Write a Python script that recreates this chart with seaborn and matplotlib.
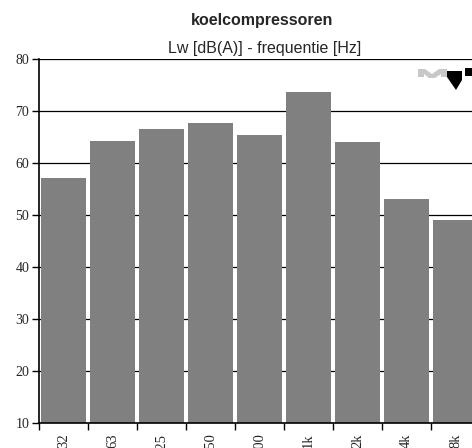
import matplotlib
matplotlib.use("Agg")
import matplotlib.pyplot as plt
import seaborn as sns
import pandas as pd
import numpy as np
from matplotlib.patches import Polygon

categories = ["32", "63", "125", "250", "500", "1k", "2k", "4k", "8k"]
values = [57.2, 64.3, 66.6, 67.8, 65.4, 73.7, 64.1, 53.1, 49.1]
yticks = [10, 20, 30, 40, 50, 60, 70, 80]

df = pd.DataFrame({"freq": categories, "Lw": values})

sns.set_style("white")
plt.rcParams["font.family"] = ["Liberation Sans", "DejaVu Sans"]

W, H = 472, 448
fig = plt.figure(figsize=(W / 100, H / 100), dpi=100)
ax = fig.add_axes([39 / W, 1 - 423.3 / H, 441 / W, (423.3 - 59.3) / H])

sns.barplot(data=df, x="freq", y="Lw", color="#808080", saturation=1,
            width=0.92, ax=ax, zorder=2, edgecolor="none", linewidth=0)
ax.set_xlim(-0.5, len(categories) - 0.5)
ax.set_ylim(10, 80)
ax.set_yticks(yticks)
ax.yaxis.grid(True, color="black", linewidth=0.9, zorder=1)
ax.set_axisbelow(True)
ax.set_xlabel("")
ax.set_ylabel("")

for s in ["top", "right"]:
    ax.spines[s].set_visible(False)
for s in ["left", "bottom"]:
    ax.spines[s].set_visible(True)
    ax.spines[s].set_color("black")
    ax.spines[s].set_linewidth(1.2)

# labels at centers, tick marks at boundaries
ax.set_xticks(range(len(categories)))
ax.set_xticklabels(categories, rotation=90, family="Liberation Serif", fontsize=10.5)
ax.set_xticks(np.arange(-0.5, len(categories), 1), minor=True)
ax.tick_params(axis="x", which="major", length=0, pad=7)
ax.tick_params(axis="x", which="minor", length=5, width=1, color="black",
               direction="out", bottom=True)
ax.tick_params(axis="y", length=5, width=1, color="black", direction="out",
               left=True, pad=2)
for lab in ax.get_yticklabels():
    lab.set_family("Liberation Serif")
    lab.set_fontsize(10)

fig.text(262 / W, 1 - 20 / H, "koelcompressoren", ha="center", va="center",
         fontsize=11.5, fontweight="bold")
fig.text(265 / W, 1 - 49 / H, "Lw [dB(A)] - frequentie [Hz]", ha="center",
         va="center", fontsize=11.5)

# logo (decoration)
def px(pts):
    return [(x / W, 1 - y / H) for x, y in pts]

gray_m = px([(418, 69), (425, 69), (432, 74), (439, 69), (447, 69), (447, 77),
             (441, 77), (441, 74), (435, 78), (429, 78), (424, 74), (424, 77),
             (418, 77)])
fig.patches.append(Polygon(gray_m, closed=True, transform=fig.transFigure,
                           facecolor="#c8c8c8", edgecolor="none", figure=fig))
black_v = px([(447, 71), (462, 71), (462, 80), (456, 90), (447, 77)])
fig.patches.append(Polygon(black_v, closed=True, transform=fig.transFigure,
                           facecolor="black", edgecolor="none", figure=fig))
black_bar = px([(465, 68), (472, 68), (472, 76), (465, 76)])
fig.patches.append(Polygon(black_bar, closed=True, transform=fig.transFigure,
                           facecolor="black", edgecolor="none", figure=fig))

fig.savefig("out.png", dpi=100, facecolor="white")
